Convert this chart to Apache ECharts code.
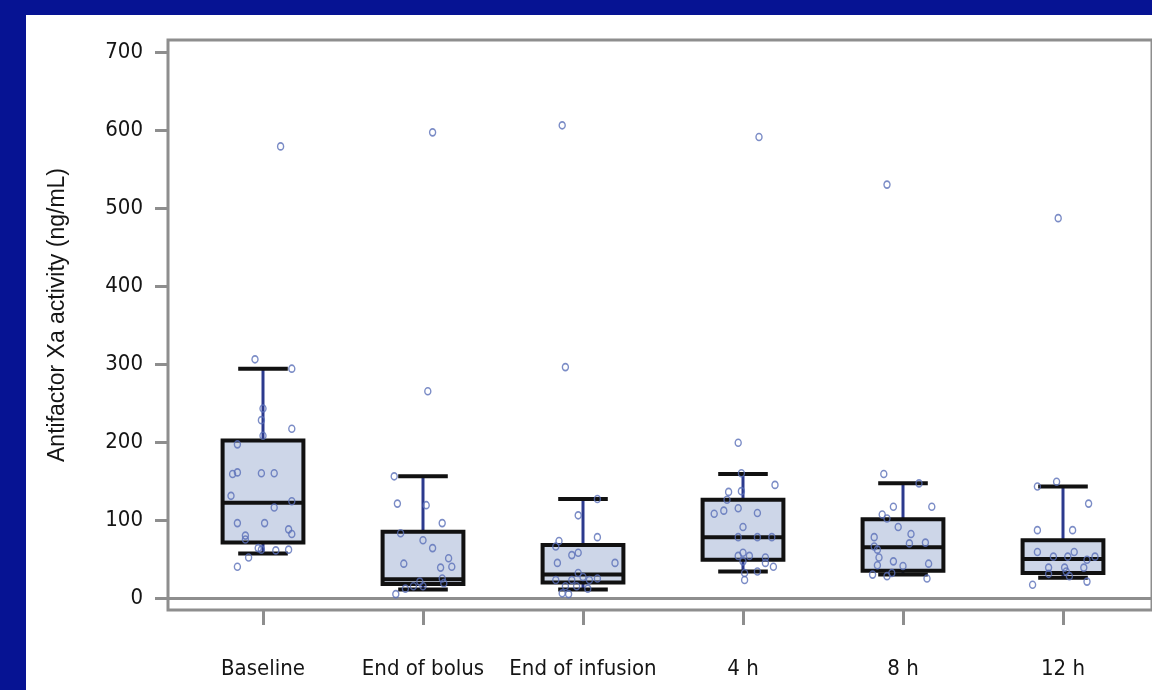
<!DOCTYPE html>
<html>
<head>
<meta charset="utf-8">
<script src="https://cdn.jsdelivr.net/npm/echarts@6/dist/echarts.min.js"></script>
<style>
  html, body { margin: 0; padding: 0; width: 1152px; height: 690px; background: #061393; overflow: hidden; }
  #chart { position: absolute; left: 26px; top: 15px; width: 1126px; height: 675px; background: #ffffff; }
</style>
</head>
<body>
<div id="chart"></div>
<script>
// ---- data ----
var categories = ['Baseline', 'End of bolus', 'End of infusion', '4 h', '8 h', '12 h'];
var yTicks = [0, 100, 200, 300, 400, 500, 600, 700];
var axisTitle = 'Antifactor Xa activity (ng/mL)';

// box statistics: [lower whisker, Q1, median, Q3, upper whisker]
var boxBaseline  = [57, 71, 122, 202, 294];
var boxBolus     = [11, 18, 24, 85, 156];
var boxInfusion  = [11, 20, 30, 68, 127];
var box4h        = [34, 49, 78, 126, 159];
var box8h        = [30, 35, 65, 101, 147];
var box12h       = [26, 32, 50, 74, 143];

// individual observations
var ptsBaseline = [579, 306, 294, 243, 228, 217, 208, 197, 159, 161, 160, 160, 131, 124, 116, 96, 96, 88, 82, 80, 75, 64, 62, 61, 62, 52, 40];
var jitBaseline = [0.11, -0.05, 0.18, 0, -0.01, 0.18, 0, -0.16, -0.19, -0.16, -0.01, 0.07, -0.20, 0.18, 0.07, -0.16, 0.01, 0.16, 0.18, -0.11, -0.11, -0.03, -0.01, 0.08, 0.16, -0.09, -0.16];
var ptsBolus = [597, 265, 156, 121, 119, 96, 83, 74, 64, 51, 44, 39, 40, 21, 25, 19, 15, 12, 15, 5];
var jitBolus = [0.06, 0.03, -0.18, -0.16, 0.02, 0.12, -0.14, 0, 0.06, 0.16, -0.12, 0.11, 0.18, -0.02, 0.12, 0.13, 0, -0.11, -0.06, -0.17];
var ptsInfusion = [606, 296, 127, 106, 78, 73, 66, 55, 58, 45, 45, 32, 23, 23, 27, 23, 25, 15, 15, 12, 6, 5];
var jitInfusion = [-0.13, -0.11, 0.09, -0.03, 0.09, -0.15, -0.17, -0.07, -0.03, -0.16, 0.20, -0.03, -0.17, -0.07, 0, 0.04, 0.09, -0.11, -0.04, 0.03, -0.13, -0.09];
var pts4h = [591, 199, 145, 160, 136, 137, 126, 108, 112, 115, 109, 91, 78, 78, 78, 58, 54, 54, 52, 47, 45, 40, 34, 32, 23];
var jit4h = [0.10, -0.03, 0.20, -0.01, -0.09, -0.01, -0.10, -0.18, -0.12, -0.03, 0.09, 0, -0.03, 0.09, 0.18, 0, -0.03, 0.04, 0.14, 0, 0.14, 0.19, 0.09, 0.01, 0.01];
var pts8h = [530, 159, 147, 117, 117, 107, 102, 91, 82, 78, 70, 71, 66, 62, 52, 47, 42, 41, 44, 30, 28, 32, 25];
var jit8h = [-0.10, -0.12, 0.10, -0.06, 0.18, -0.13, -0.10, -0.03, 0.05, -0.18, 0.04, 0.14, -0.18, -0.16, -0.15, -0.06, -0.16, 0, 0.16, -0.19, -0.10, -0.07, 0.15];
var pts12h = [487, 143, 149, 121, 87, 87, 59, 53, 53, 59, 49, 53, 39, 39, 39, 31, 34, 28, 21, 17];
var jit12h = [-0.03, -0.16, -0.04, 0.16, -0.16, 0.06, -0.16, -0.06, 0.03, 0.07, 0.15, 0.20, -0.09, 0.01, 0.13, -0.09, 0.02, 0.04, 0.15, -0.19];

// ---- build ----
var boxes = [boxBaseline, boxBolus, boxInfusion, box4h, box8h, box12h];
var pointGroups = [ptsBaseline, ptsBolus, ptsInfusion, pts4h, pts8h, pts12h];
var jitterGroups = [jitBaseline, jitBolus, jitInfusion, jit4h, jit8h, jit12h];

var boxData = boxes.map(function (b, i) { return [i].concat(b); });
var pointData = [];
pointGroups.forEach(function (g, i) {
  g.forEach(function (v, k) { pointData.push([i + jitterGroups[i][k], v]); });
});

var GRAY = '#8e8e8e';
var TXT = '#151515';
var NARROW = "'Liberation Sans Narrow', 'Arial Narrow', 'DejaVu Sans Condensed', sans-serif";

var chart = echarts.init(document.getElementById('chart'), null, { renderer: 'canvas' });
chart.setOption({
  animation: false,
  backgroundColor: '#ffffff',
  grid: [
    { left: 142, top: 25, width: 1100, height: 570, show: true, borderColor: GRAY, borderWidth: 3, backgroundColor: 'transparent' },
    { left: 157, top: 37, width: 960, height: 546 }
  ],
  xAxis: [
    { gridIndex: 0, type: 'value', min: 0, max: 1,
      axisLine: { show: true, onZero: true, lineStyle: { color: GRAY, width: 3 } },
      axisTick: { show: false }, axisLabel: { show: false }, splitLine: { show: false } },
    { gridIndex: 1, type: 'category', data: categories, position: 'bottom', offset: 12,
      axisLine: { show: false, onZero: false },
      axisTick: { show: true, alignWithLabel: true, length: 15, lineStyle: { color: GRAY, width: 3 } },
      axisLabel: { interval: 0, margin: 48, fontSize: 22, color: TXT, fontFamily: NARROW },
      splitLine: { show: false } },
    { gridIndex: 1, type: 'value', min: -0.5, max: 5.5, show: false,
      axisLine: { show: false, onZero: false } }
  ],
  yAxis: [
    { gridIndex: 0, type: 'value', min: -15.3846, max: 715.3846, show: false,
      axisLine: { show: false }, splitLine: { show: false } },
    { gridIndex: 1, type: 'value', min: yTicks[0], max: yTicks[yTicks.length - 1], interval: 100,
      position: 'left', offset: 15,
      axisLine: { show: false, onZero: false },
      axisTick: { show: true, length: 13, lineStyle: { color: GRAY, width: 3 } },
      axisLabel: { margin: 25, fontSize: 22, color: TXT, fontFamily: NARROW },
      splitLine: { show: false } }
  ],
  graphic: [
    { type: 'text', x: 32, y: 300, rotation: Math.PI / 2,
      style: { text: axisTitle, fontSize: 23, fill: TXT, fontFamily: "'Liberation Sans', Arial, sans-serif",
               textAlign: 'center', textVerticalAlign: 'middle' } }
  ],
  series: [
    {
      type: 'custom', name: 'box', xAxisIndex: 1, yAxisIndex: 1, z: 2,
      encode: { x: 0, y: [1, 2, 3, 4, 5] },
      data: boxData,
      renderItem: function (params, api) {
        var x = api.value(0);
        var pMin = api.coord([x, api.value(1)]);
        var pQ1 = api.coord([x, api.value(2)]);
        var pMed = api.coord([x, api.value(3)]);
        var pQ3 = api.coord([x, api.value(4)]);
        var pMax = api.coord([x, api.value(5)]);
        var band = api.size([1, 0])[0];
        var bw = band * 0.505, cw = band * 0.31;
        var cx = pMed[0];
        var blue = { stroke: '#2c3a8e', lineWidth: 3 };
        var blk = { stroke: '#111111', lineWidth: 4 };
        return {
          type: 'group',
          children: [
            { type: 'line', shape: { x1: cx, y1: pQ3[1], x2: cx, y2: pMax[1] }, style: blue },
            { type: 'line', shape: { x1: cx, y1: pMin[1], x2: cx, y2: pQ1[1] }, style: blue },
            { type: 'line', shape: { x1: cx - cw / 2, y1: pMax[1], x2: cx + cw / 2, y2: pMax[1] }, style: blk },
            { type: 'line', shape: { x1: cx - cw / 2, y1: pMin[1], x2: cx + cw / 2, y2: pMin[1] }, style: blk },
            { type: 'rect', shape: { x: cx - bw / 2, y: pQ3[1], width: bw, height: pQ1[1] - pQ3[1] },
              style: { fill: '#cdd6e8', stroke: '#111111', lineWidth: 4 } },
            { type: 'line', shape: { x1: cx - bw / 2, y1: pMed[1], x2: cx + bw / 2, y2: pMed[1] }, style: blk }
          ]
        };
      }
    },
    {
      type: 'scatter', name: 'obs', xAxisIndex: 2, yAxisIndex: 1, z: 3,
      symbol: 'circle', symbolSize: [6, 7],
      itemStyle: { color: 'rgba(255,255,255,0)', borderColor: '#5a6fb8', borderWidth: 1.5 },
      data: pointData
    }
  ]
});
</script>
</body>
</html>
